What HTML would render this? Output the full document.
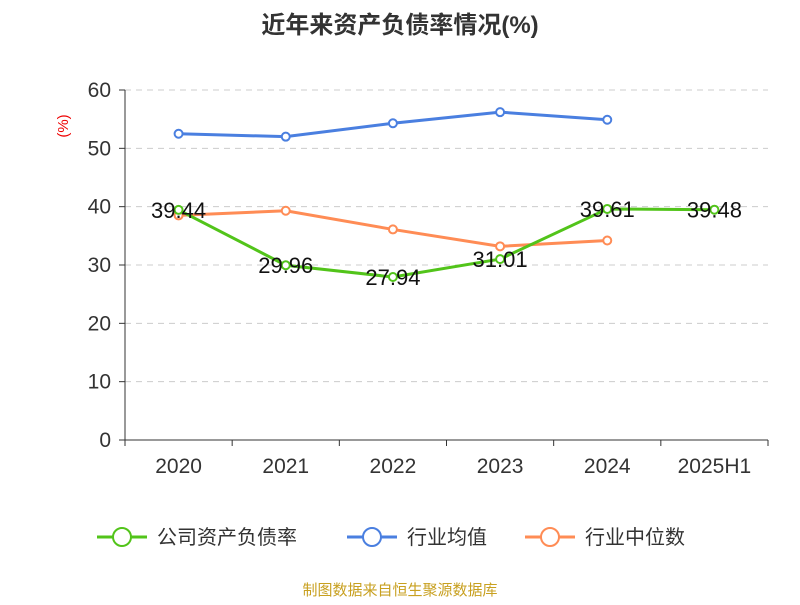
<!DOCTYPE html>
<html><head><meta charset="utf-8"><style>
body{margin:0;background:#fff;font-family:"Liberation Sans","Noto Sans CJK SC",sans-serif;}
</style></head><body>
<svg width="800" height="600" xmlns="http://www.w3.org/2000/svg">
<text x="400" y="33" text-anchor="middle" font-size="24" font-weight="bold" fill="#333" font-family="Liberation Sans,Noto Sans CJK SC,sans-serif">近年来资产负债率情况(%)</text>
<text x="68" y="126" transform="rotate(-90 68 126)" text-anchor="middle" font-size="15" fill="#e00">(%)</text>
<g id="grid"></g><g id="axes"></g><g id="series"></g>
<g font-size="20" fill="#333" font-family="Liberation Sans,Noto Sans CJK SC,sans-serif">
<g><line x1="97" y1="537" x2="147" y2="537" stroke="#52c41a" stroke-width="3"/><circle cx="122" cy="537" r="9" fill="#fff" stroke="#52c41a" stroke-width="2"/><text x="157" y="544">公司资产负债率</text></g>
<g><line x1="347" y1="537" x2="397" y2="537" stroke="#4a7fe0" stroke-width="3"/><circle cx="372" cy="537" r="9" fill="#fff" stroke="#4a7fe0" stroke-width="2"/><text x="407" y="544">行业均值</text></g>
<g><line x1="525" y1="537" x2="575" y2="537" stroke="#ff8c55" stroke-width="3"/><circle cx="550" cy="537" r="9" fill="#fff" stroke="#ff8c55" stroke-width="2"/><text x="585" y="544">行业中位数</text></g>
</g>
<text x="400" y="595" text-anchor="middle" font-size="15" fill="#c8a020" font-family="Liberation Sans,Noto Sans CJK SC,sans-serif">制图数据来自恒生聚源数据库</text>
</svg>
<script>
const categories=["2020","2021","2022","2023","2024","2025H1"];
const companyVals=[39.44,29.96,27.94,31.01,39.61,39.48];
const avgVals=[52.5,52.0,54.3,56.2,54.9,null];
const medianVals=[38.5,39.3,36.1,33.2,34.2,null];
const yTicks=[0,10,20,30,40,50,60];
const NS="http://www.w3.org/2000/svg";
const x0=125,x1=768,yBase=440,yTop=90;
const band=(x1-x0)/categories.length;
const X=i=>x0+band*(i+0.5);
const Y=v=>yBase-(v/60)*(yBase-yTop);
function mk(t,a,p){const e=document.createElementNS(NS,t);for(const k in a)e.setAttribute(k,a[k]);p.appendChild(e);return e;}
const grid=document.getElementById('grid'),axes=document.getElementById('axes'),ser=document.getElementById('series');
yTicks.forEach(v=>{
 if(v>0){const l=mk('line',{x1:x0,x2:x1,y1:Y(v),y2:Y(v),stroke:'#ccc','stroke-dasharray':'6,5'},grid);
 }
 mk('line',{x1:x0-6,x2:x0,y1:Y(v),y2:Y(v),stroke:'#333'},axes);
 const t=mk('text',{x:x0-14,y:Y(v)+7,'text-anchor':'end','font-size':21,fill:'#333'},axes);t.textContent=v;
 
});
const ya=mk('line',{x1:x0,x2:x0,y1:yTop,y2:yBase,stroke:'#333'},axes);

const xa=mk('line',{x1:x0,x2:x1,y1:yBase,y2:yBase,stroke:'#333'},axes);

for(let i=0;i<=categories.length;i++)mk('line',{x1:x0+band*i,x2:x0+band*i,y1:yBase,y2:yBase+6,stroke:'#333'},axes);
categories.forEach((c,i)=>{const t=mk('text',{x:X(i),y:473,'text-anchor':'middle','font-size':21,fill:'#333'},axes);t.textContent=c;
 });
function line(vals,color,name,labels){
 const g=mk('g',{},ser);
 const pts=vals.map((v,i)=>v==null?null:[X(i),Y(v)]).filter(p=>p);
 mk('polyline',{points:pts.map(p=>p.join(',')).join(' '),fill:'none',stroke:color,'stroke-width':3},g);
 vals.forEach((v,i)=>{if(v==null)return;const c=mk('circle',{cx:X(i),cy:Y(v),r:4,fill:'#fff',stroke:color,'stroke-width':2},g);
  
  if(labels){const t=mk('text',{x:X(i),y:Y(v)+8,'text-anchor':'middle','font-size':22,fill:'#111'},g);t.textContent=v.toFixed(2);
   }
 });
}
line(avgVals,'#4a7fe0','industry-avg-line',false);
line(medianVals,'#ff8c55','industry-median-line',false);
line(companyVals,'#52c41a','company-line',true);
</script>
</body></html>
